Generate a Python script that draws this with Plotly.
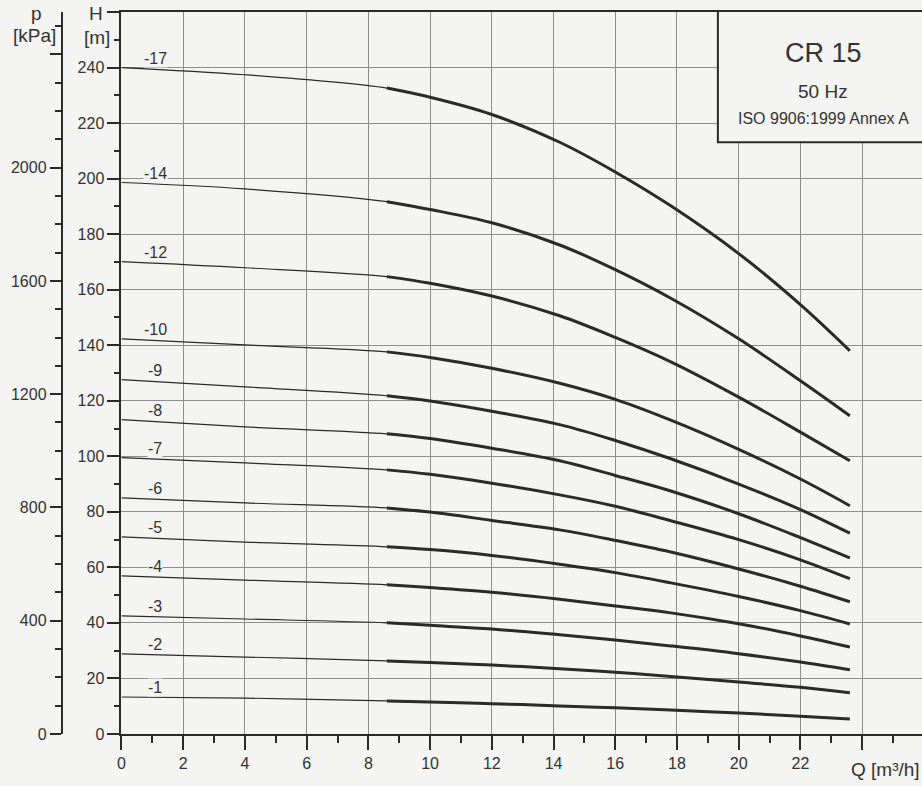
import plotly.graph_objects as go

# ---------------- data ----------------
Q_POINTS = [0, 4, 8.6, 10, 12, 14.2, 16, 17.8, 20, 22, 23.6]   # flow Q [m3/h]
THICK_FROM = 2                                 # index where the bold (recommended) range starts
STAGES = [17, 14, 12, 10, 9, 8, 7, 6, 5, 4, 3, 2, 1]

H_17 = [240.0, 237.4, 232.6, 229.3, 223.1, 213.1, 202.4, 190.2, 173.0, 154.6, 138.0]
H_14 = [198.6, 196.3, 191.7, 188.9, 184.1, 176.1, 167.2, 156.9, 142.3, 127.2, 114.6]
H_12 = [170.1, 167.9, 164.7, 162.3, 157.7, 150.6, 142.8, 134.0, 121.3, 108.7, 98.4]
H_10 = [142.3, 140.1, 137.6, 135.6, 131.7, 126.3, 120.5, 113.0, 102.5, 91.8, 82.2]
H_9 = [127.6, 125.0, 121.8, 119.9, 116.2, 111.4, 105.7, 99.1, 90.0, 80.8, 72.3]
H_8 = [113.2, 110.6, 108.1, 106.4, 102.9, 98.4, 93.1, 87.5, 79.3, 70.7, 63.4]
H_7 = [99.5, 97.6, 95.1, 93.5, 90.3, 86.1, 82.0, 76.8, 70.0, 62.7, 55.9]
H_6 = [85.0, 83.2, 81.4, 79.9, 76.9, 73.5, 69.7, 65.5, 59.4, 53.2, 47.6]
H_5 = [71.0, 69.1, 67.4, 66.4, 64.3, 61.1, 58.1, 54.4, 49.5, 44.4, 39.6]
H_4 = [56.9, 55.4, 53.7, 52.7, 51.0, 48.5, 46.1, 43.6, 39.7, 35.3, 31.3]
H_3 = [42.5, 41.4, 40.0, 39.1, 37.8, 35.7, 33.8, 31.7, 28.9, 25.9, 23.1]
H_2 = [28.8, 27.7, 26.3, 25.7, 24.8, 23.5, 22.2, 20.7, 18.7, 16.8, 14.8]
H_1 = [13.3, 12.9, 11.9, 11.5, 10.9, 10.1, 9.4, 8.6, 7.5, 6.4, 5.4]
H_CURVES = [H_17, H_14, H_12, H_10, H_9, H_8, H_7, H_6, H_5, H_4, H_3, H_2, H_1]

X_TICKS = [0, 2, 4, 6, 8, 10, 12, 14, 16, 18, 20, 22, 24]
X_TICK_LABELS = ["0", "2", "4", "6", "8", "10", "12", "14", "16", "18", "20", "22", ""]
X_MINOR = [1, 3, 5, 7, 9, 11, 13, 15, 17, 19, 21, 23, 25]
H_TICKS = [0, 20, 40, 60, 80, 100, 120, 140, 160, 180, 200, 220, 240, 260]
H_TICK_LABELS = ["0", "20", "40", "60", "80", "100", "120", "140", "160", "180",
                 "200", "220", "240", ""]
H_MINOR = [10, 30, 50, 70, 90, 110, 130, 150, 170, 190, 210, 230, 250]
P_TICKS = [0, 400, 800, 1200, 1600, 2000, 2400]
P_TICK_LABELS = ["0", "400", "800", "1200", "1600", "2000", ""]
P_MINOR = [100, 200, 300, 500, 600, 700, 900, 1000, 1100, 1300, 1400, 1500,
           1700, 1800, 1900, 2100, 2200, 2300, 2500]
RHO_G = 9.807           # kPa per metre of water head
H_MAX = 260
Q_MAX = 25.94

TITLE = "CR 15"
SUB1 = "50 Hz"
SUB2 = "ISO 9906:1999 Annex A"

# ---------------- styling / layout ----------------
W = 922
REF_H = 786          # reference picture height (used for paper fractions)
FIG_H = 796          # figure height (photo is rescaled to 786 tall)
BG = "#f4f4f2"
INK = "#2a2a2a"
TXT = "#333333"
GRID = "#8e8e8e"
FONT = "Liberation Sans, Arial, sans-serif"


def py(ypix):
    """reference pixel row -> paper fraction"""
    return 1 - ypix / REF_H


fig = go.Figure()

for stage, h in zip(STAGES, H_CURVES):
    fig.add_trace(go.Scatter(
        x=Q_POINTS, y=h, mode="lines",
        line=dict(color=INK, width=1.2, shape="spline", smoothing=1.0),
        hoverinfo="skip", showlegend=False))
    fig.add_trace(go.Scatter(
        x=Q_POINTS[THICK_FROM:], y=h[THICK_FROM:], mode="lines",
        line=dict(color=INK, width=3, shape="spline", smoothing=1.0),
        name=f"-{stage}", showlegend=False))
    fig.add_annotation(
        x=1.1, y=h[0] + 3.4, xref="x", yref="y", text=f"-{stage}",
        showarrow=False, font=dict(family=FONT, size=16, color=TXT),
        bgcolor=BG, borderpad=0, xanchor="center", yanchor="middle")

# dummy trace to activate pressure axis
fig.add_trace(go.Scatter(x=[0], y=[0], yaxis="y2", mode="markers",
                         marker=dict(opacity=0), hoverinfo="skip", showlegend=False))

x_dom = [118 / W, 1.0]
y_dom = [py(733), py(12)]

fig.update_layout(
    width=W, height=FIG_H, autosize=False,
    margin=dict(l=0, r=0, t=0, b=0),
    paper_bgcolor=BG, plot_bgcolor=BG,
    font=dict(family=FONT, size=16, color=TXT),
    showlegend=False,
    xaxis=dict(
        domain=x_dom, range=[0, Q_MAX], showline=True, linecolor=INK, linewidth=2,
        mirror=True, ticks="outside", ticklen=14, tickwidth=1.5, tickcolor=INK,
        tickmode="array", tickvals=X_TICKS, ticktext=X_TICK_LABELS,
        showgrid=True, gridcolor=GRID, gridwidth=1, zeroline=False,
        tickfont=dict(family=FONT, size=16, color=TXT),
        minor=dict(tickmode="array", tickvals=X_MINOR, ticks="outside",
                   ticklen=7, tickwidth=1.5, tickcolor=INK, showgrid=False),
    ),
    yaxis=dict(
        domain=y_dom, range=[0, H_MAX], showline=True, linecolor=INK, linewidth=2,
        ticks="outside", ticklen=12, tickwidth=1.5, tickcolor=INK,
        tickmode="array", tickvals=H_TICKS, ticktext=H_TICK_LABELS,
        showgrid=True, gridcolor=GRID, gridwidth=1, zeroline=False,
        tickfont=dict(family=FONT, size=16, color=TXT),
        minor=dict(tickmode="array", tickvals=H_MINOR, ticks="outside",
                   ticklen=5, tickwidth=1.5, tickcolor=INK, showgrid=False),
    ),
    yaxis2=dict(
        overlaying="y", anchor="free", position=58 / W, side="left",
        range=[0, H_MAX * RHO_G], showline=True, linecolor=INK, linewidth=2,
        ticks="outside", ticklen=11, tickwidth=1.5, tickcolor=INK,
        tickmode="array", tickvals=P_TICKS, ticktext=P_TICK_LABELS,
        showgrid=False, zeroline=False,
        tickfont=dict(family=FONT, size=16, color=TXT),
        minor=dict(tickmode="array", tickvals=P_MINOR, ticks="outside",
                   ticklen=6, tickwidth=1.5, tickcolor=INK, showgrid=False),
    ),
)

# axis titles
ann_font = dict(family=FONT, size=19, color=TXT)
fig.add_annotation(x=101 / W, xref="paper", y=259.3, yref="y", text="H",
                   showarrow=False, xanchor="right", yanchor="middle", font=ann_font)
fig.add_annotation(x=108 / W, xref="paper", y=251.0, yref="y", text="[m]",
                   showarrow=False, xanchor="right", yanchor="middle", font=ann_font)
fig.add_annotation(x=33 / W, xref="paper", y=259.3, yref="y", text="p",
                   showarrow=False, xanchor="center", yanchor="middle", font=ann_font)
fig.add_annotation(x=31 / W, xref="paper", y=251.7, yref="y", text="[kPa]",
                   showarrow=False, xanchor="center", yanchor="middle", font=ann_font)
fig.add_annotation(x=1.0, xref="paper", y=py(769), yref="paper", text="Q [m³/h]",
                   showarrow=False, xanchor="right", yanchor="middle", font=ann_font)

# title box (left and bottom edges visible, runs off the right edge)
bx0, bx1 = 717 / W, 1.0
by0, by1 = py(142), py(12)
fig.add_shape(type="rect", xref="paper", yref="paper", x0=bx0, x1=bx1, y0=by0, y1=by1,
              line=dict(width=0), fillcolor=BG, layer="above")
fig.add_shape(type="path", xref="paper", yref="paper",
              path=f"M {bx0},{by1} L {bx0},{by0} L {bx1},{by0}",
              line=dict(color=INK, width=2), layer="above")
box_cx = 823 / W
for txt, ypx, size in [(TITLE, 53, 27), (SUB1, 91, 19), (SUB2, 118, 16)]:
    fig.add_annotation(x=box_cx, xref="paper", y=py(ypx), yref="paper", text=txt,
                       showarrow=False, xanchor="center", yanchor="middle",
                       font=dict(family=FONT, size=size, color=TXT))

fig.write_html("out.html",
               config={"displayModeBar": False},
               post_script="document.body.style.margin='0';"
                           "document.body.style.background='" + BG + "';"
                           "document.body.style.overflow='hidden';")
